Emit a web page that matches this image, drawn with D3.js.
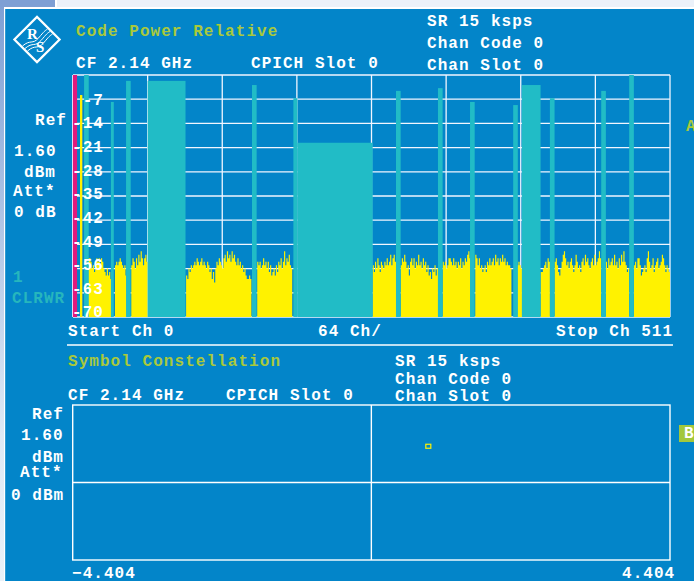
<!DOCTYPE html>
<html><head><meta charset="utf-8">
<script src="https://cdn.jsdelivr.net/npm/d3@7"></script>
<style>
body{margin:0;background:#e9f0f8;}
svg{display:block;}
text{font-family:"Liberation Mono","DejaVu Sans Mono",monospace;font-weight:bold;font-size:16px;letter-spacing:1.05px;}
</style></head><body>
<svg id="c" width="694" height="581"></svg>
<script>
// ---------- DATA ----------
const channelTicks = [0,64,128,192,256,320,384,448,512];
const dbTicks = [0,-7,-14,-21,-28,-35,-42,-49,-56,-63,-70];
const dbLabels = [-7,-14,-21,-28,-35,-42,-49,-56,-63,-70];
// active code channels (cyan): start channel, width in channels, relative power dB
const codeStart = [9.5, 32.5, 45.5, 64, 153.5, 189, 192.5, 277, 313, 340.5, 377.5, 385, 409, 453, 477];
const codeWidth = [4, 2.5, 4, 32.5, 4, 3.5, 64.5, 4, 4, 4, 4, 16, 4, 4, 4];
const codePower = [0, -7.8, -1.7, -1.7, -2.9, -6.7, -19.6, -4.6, -3.8, -7.8, -8.7, -2.9, -6.7, -4.6, 0];
// inactive channel noise (yellow), one value per channel 0..511, null = none
const N = null;
const noiseDb = [
 N,N,N,N,N,N,-5.8,-5.8,N,N,N,N,N,-53,-53,-54,
 -56,-55,-57,-56,-53,-54,-53,-55,-53,-54,-56,-57,-58,-56,-58,-57,
 -59,N,N,N,-55,-54,-55,-54,-53,-54,-55,-56,-55,-58,N,N,
 N,N,-55,-53,-54,-56,-53,-55,-52,-54,-51,-53,-55,-53,-52,-54,
 N,N,N,N,N,N,N,N,N,N,N,N,N,N,N,N,
 N,N,N,N,N,N,N,N,N,N,N,N,N,N,N,N,
 N,-58,-59,-56,-57,-55,-56,-55,-54,-55,-53,-54,-55,-54,-53,-55,
 -54,-55,-56,-54,-55,-57,-56,-59,-57,-60,-56,-54,-55,-53,-54,-55,
 -56,-53,-52,-54,-51,-53,-52,-54,-51,-53,-52,-54,-55,-53,-55,-54,
 -56,-55,-57,-56,-58,-59,-59,-58,-59,N,N,N,N,N,-54,-55,
 -54,-56,-55,-53,-55,-54,-56,-54,-57,-55,-58,-57,-56,-58,-55,-57,
 -54,-55,-53,-56,-54,-51,-55,-53,-54,-52,-55,-56,N,N,N,N,
 N,N,N,N,N,N,N,N,N,N,N,N,N,N,N,N,
 N,N,N,N,N,N,N,N,N,N,N,N,N,N,N,N,
 N,N,N,N,N,N,N,N,N,N,N,N,N,N,N,N,
 N,N,N,N,N,N,N,N,N,N,N,N,N,N,N,N,
 N,-55,-57,-54,-56,-53,-55,-57,-54,-55,-56,-54,-55,-53,-55,-54,
 -52,-55,-53,-52,-54,N,N,N,N,-55,-53,-54,-52,-54,-56,-55,
 -58,-54,-53,-55,-53,-56,-54,-55,-52,-55,-54,-56,-53,-55,-54,-57,
 -55,-58,-57,-59,-56,-57,-55,-58,-56,N,N,N,N,-54,-55,-54,
 -56,-55,-53,-53,-54,-55,-53,-55,-54,-56,-54,-55,-53,-56,-54,-55,
 -53,-54,-52,-51,-53,N,N,N,N,-52,-53,-55,-53,-56,-55,-57,
 -56,-55,-57,-54,-55,-53,-55,-54,-53,-55,-52,-54,-53,-55,-53,-54,
 -52,-54,-53,-55,-54,-55,-55,-56,N,N,N,N,N,-55,-54,-55,
 -56,N,N,N,N,N,N,N,N,N,N,N,N,N,N,N,
 N,-57,-57,-56,-55,-54,-56,-53,-54,N,N,N,N,-54,-53,-55,
 -57,-58,-56,-54,-52,-51,-53,-55,-54,-56,-54,-53,-55,-57,-55,-52,
 -54,-56,-55,-57,-54,-53,-55,-52,-54,-53,-55,-56,-54,-53,-55,-52,
 -55,-54,-53,-51,-53,N,N,N,N,-54,-56,-53,-55,-54,-53,-55,
 -52,-55,-54,-56,-53,-55,-52,-54,-51,-54,-55,-57,-56,N,N,N,
 N,-55,-54,-56,-53,-53,-55,-58,-57,-56,-55,-57,-53,-51,-54,-56,
 -55,-53,-57,-55,-54,-53,-56,-55,-54,-52,-53,-55,-57,-55,-56,-57
];
const cpichMarker = [0, 3.5];          // channel span of the magenta marker
const constI = [0.84];                  // constellation point(s)
const constQ = [2.06];
const constRange = [-4.404, 4.404];

// ---------- COLORS ----------
const BLUE = "#0385c9", CYAN = "#21bcc6", YEL = "#fff200", MAG = "#e2197d",
      TITLE = "#a9c93c", TEAL = "#26b6bd", GRID = "#f2f6ff";

const svg = d3.select("#c");

// background frame
const defs = svg.append("defs");
const lg = defs.append("linearGradient").attr("id","lstrip").attr("x1",0).attr("y1",0).attr("x2",0).attr("y2",1);
lg.append("stop").attr("offset","0%").attr("stop-color","#7e9fd4");
lg.append("stop").attr("offset","75%").attr("stop-color","#dfe9f5");
lg.append("stop").attr("offset","100%").attr("stop-color","#eaf1f8");
svg.append("rect").attr("width",694).attr("height",581).attr("fill","#ebf1f9");
svg.append("rect").attr("x",0).attr("y",0).attr("width",5).attr("height",581).attr("fill","url(#lstrip)");
svg.append("rect").attr("x",0).attr("y",0).attr("width",55).attr("height",7).attr("fill","#7e9fd4");
svg.append("rect").attr("x",55).attr("y",0).attr("width",2).attr("height",7).attr("fill","#ffffff");
svg.append("rect").attr("x",4).attr("y",7).attr("width",690).attr("height",2).attr("fill","#ffffff");
svg.append("rect").attr("x",4).attr("y",7).attr("width",1.2).attr("height",574).attr("fill","#ffffff");
svg.append("rect").attr("x",5.2).attr("y",9).attr("width",689).attr("height",572).attr("fill",BLUE);

// ---------- LOGO ----------
const logo = svg.append("g").attr("transform","translate(37,39.5)");
logo.append("rect").attr("x",-16).attr("y",-16).attr("width",32).attr("height",32)
  .attr("transform","rotate(45)").attr("fill","none").attr("stroke","#fff").attr("stroke-width",2.2);
[-2.5,0,2.5].forEach(o=>{
  logo.append("path").attr("d",`M${-12+o},${9+o} C${-4+o},${2+o} ${-2+o},${8+o} ${4+o},${1+o} S${10+o},${-6+o} ${13+o},${-8+o}`)
   .attr("fill","none").attr("stroke","#fff").attr("stroke-width",1);
});
logo.append("text").attr("x",-10).attr("y",-1).text("R")
  .style("font-family","'Liberation Serif','DejaVu Serif',serif").style("font-size","15px").style("letter-spacing","0").attr("fill","#fff");
logo.append("text").attr("x",-1).attr("y",12).text("S")
  .style("font-family","'Liberation Serif','DejaVu Serif',serif").style("font-size","15px").style("letter-spacing","0").attr("fill","#fff");

// ---------- UPPER CHART ----------
const x = d3.scaleLinear().domain([0,512]).range([73,670]);
const y = d3.scaleLinear().domain([0,-70]).range([75,317]);

const grid = svg.append("g");
grid.selectAll("line.h").data(dbTicks).join("line")
  .attr("x1",x(0)).attr("x2",x(512)).attr("y1",d=>y(d)).attr("y2",d=>y(d))
  .attr("stroke",GRID).attr("stroke-width",1.3);
grid.selectAll("line.v").data(channelTicks).join("line")
  .attr("y1",y(0)).attr("y2",y(-70)).attr("x1",d=>x(d)).attr("x2",d=>x(d))
  .attr("stroke",GRID).attr("stroke-width",1.3);

// noise: one step-area per contiguous run of channels
const runs = [];
let cur = null;
noiseDb.forEach((v,i)=>{
  if(v===null){ if(cur){cur.push({ch:i,v:cur[cur.length-1].v}); runs.push(cur); cur=null;} }
  else { if(!cur) cur=[]; cur.push({ch:i,v}); }
});
if(cur){cur.push({ch:noiseDb.length,v:cur[cur.length-1].v}); runs.push(cur);}
const noiseArea = d3.area().curve(d3.curveStepAfter)
  .x(d=>x(d.ch)).y0(y(-70)).y1(d=>y(d.v));
svg.append("g").selectAll("path").data(runs).join("path")
  .attr("d",noiseArea).attr("fill",YEL);

// code channel bars
const codes = codeStart.map((s,i)=>({s,w:codeWidth[i],p:codePower[i]}));
svg.append("g").selectAll("rect").data(codes).join("rect")
  .attr("x",d=>x(d.s)).attr("width",d=>x(d.s+d.w)-x(d.s))
  .attr("y",d=>y(d.p)).attr("height",d=>y(-70)-y(d.p))
  .attr("fill",CYAN);

// magenta marker
svg.append("rect").attr("x",x(cpichMarker[0])).attr("width",x(cpichMarker[1])-x(cpichMarker[0]))
  .attr("y",y(0)).attr("height",y(-70)-y(0)).attr("fill",MAG);
svg.append("line").attr("x1",x(0)-0.5).attr("x2",x(0)-0.5).attr("y1",y(0)).attr("y2",y(-70))
  .attr("stroke","#e6d6f0").attr("stroke-width",1);

// y axis labels (the instrument prints them on a slightly compressed label grid)
const yLab = d3.scaleLinear().domain([-7,-70]).range([99,311.7]);
const yAxis = d3.axisLeft(yLab).tickValues(dbLabels).tickSize(0).tickPadding(0).tickFormat(d=>d);
const ya = svg.append("g").attr("transform","translate(104,0)").call(yAxis);
ya.select(".domain").remove();
ya.selectAll("text").attr("fill","#fff").attr("dy","0.33em").style("font-size","16px");

// ---------- TEXT ----------
function t(s,xx,yy,col){svg.append("text").attr("x",xx).attr("y",yy).attr("fill",col||"#fff").text(s);}
t("Code Power Relative",76,36,TITLE);
t("CF 2.14 GHz",76,67.5);
t("CPICH Slot 0",251,67.5);
t("SR 15 ksps",427,26);
t("Chan Code 0",427,48);
t("Chan Slot 0",427,70);
t("Ref",35,125);
t("1.60",14,156);
t("dBm",24,177);
t("Att*",13,196);
t("0 dB",14,217);
t("1",13,282,TEAL);
t("CLRWR",12,303,TEAL);
t("Start Ch 0",68,335.5);
t("64 Ch/",318,335.5);
t("Stop Ch 511",556,335.5);
t("A",686,131,TITLE);

svg.append("line").attr("x1",67).attr("x2",673).attr("y1",345).attr("y2",345).attr("stroke","#fff").attr("stroke-width",1.3);

// ---------- LOWER CHART ----------
const xi = d3.scaleLinear().domain(constRange).range([72.7,670]);
const yq = d3.scaleLinear().domain(constRange).range([560,405]);
svg.append("rect").attr("x",xi(constRange[0])).attr("y",yq(constRange[1]))
  .attr("width",xi(constRange[1])-xi(constRange[0])).attr("height",yq(constRange[0])-yq(constRange[1]))
  .attr("fill","none").attr("stroke","#fff").attr("stroke-width",1.4);
svg.append("line").attr("x1",xi(0)).attr("x2",xi(0)).attr("y1",yq(constRange[1])).attr("y2",yq(constRange[0]))
  .attr("stroke","#fff").attr("stroke-width",1.4);
svg.append("line").attr("x1",xi(constRange[0])).attr("x2",xi(constRange[1])).attr("y1",yq(0)).attr("y2",yq(0))
  .attr("stroke","#fff").attr("stroke-width",1.4);
svg.append("g").selectAll("rect").data(constI.map((v,i)=>({i:v,q:constQ[i]}))).join("rect")
  .attr("x",d=>xi(d.i)-2.5).attr("y",d=>yq(d.q)-2).attr("width",5).attr("height",4)
  .attr("fill","none").attr("stroke",YEL).attr("stroke-width",1.2);

t("Symbol Constellation",68,366,TITLE);
t("SR 15 ksps",395,366);
t("Chan Code 0",395,383.5);
t("CF 2.14 GHz",68,399.5);
t("CPICH Slot 0",226,399.5);
t("Chan Slot 0",395,401);
t("Ref",32,419);
t("1.60",21,440);
t("dBm",32,461.5);
t("Att*",20,476.5);
t("0 dBm",11,500);
t(d3.format(".3f")(constRange[0]),72,577.5);
t(d3.format(".3f")(constRange[1]),622,577.5);
svg.append("rect").attr("x",679).attr("y",425).attr("width",15).attr("height",17).attr("fill","#a3c83c");
t("B",684,438);
</script>
</body></html>
